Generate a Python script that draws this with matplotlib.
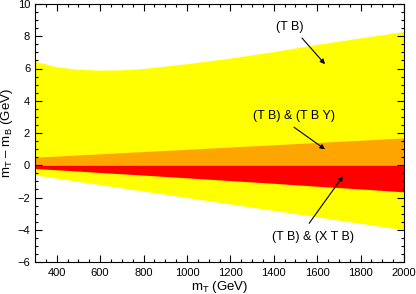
import matplotlib
matplotlib.use('Agg')
import matplotlib.pyplot as plt
import numpy as np
from matplotlib.ticker import MultipleLocator

plt.rcParams['font.family'] = ['Liberation Sans', 'DejaVu Sans']
plt.rcParams['mathtext.fontset'] = 'custom'
plt.rcParams['mathtext.rm'] = 'Liberation Sans'
plt.rcParams['mathtext.it'] = 'Liberation Sans'

# mass of T (GeV)
mT = [300, 400, 500, 600, 700, 800, 1000, 1200, 1400, 1600, 1800, 2000]
# (T B) allowed band
tb_hi = [6.45, 6.1, 5.95, 5.9, 5.92, 6.0, 6.3, 6.65, 7.05, 7.5, 7.9, 8.3]
tb_lo = [-0.6, -0.8, -1.0, -1.2, -1.4, -1.6, -2.0, -2.4, -2.8, -3.2, -3.6, -4.0]
# (T B) & (T B Y)
tby_hi = [0.5, 0.57, 0.64, 0.71, 0.78, 0.85, 0.99, 1.13, 1.27, 1.41, 1.55, 1.7]
tby_lo = [0, 0, 0, 0, 0, 0, 0, 0, 0, 0, 0, 0]
# (T B) & (X T B)
xtb_hi = [0, 0, 0, 0, 0, 0, 0, 0, 0, 0, 0, 0]
xtb_lo = [-0.2, -0.28, -0.36, -0.45, -0.53, -0.61, -0.78, -0.95, -1.12, -1.3, -1.47, -1.65]

fontsz = 8
labsz = 9

fig = plt.figure(figsize=(4.16, 2.94), dpi=100)
ax = fig.add_axes([35/416, 32/294, 369/416, 258/294])

ax.fill_between(mT, tb_lo, tb_hi, color='#ffff00', lw=0)
ax.fill_between(mT, tby_lo, tby_hi, color='#ffa500', lw=0)
ax.fill_between(mT, xtb_lo, xtb_hi, color='#ff0000', lw=0)

arrow = dict(arrowstyle='-|>', color='black', lw=0.8, mutation_scale=7, shrinkA=0, shrinkB=0)
ax.text(1475, 8.57, '(T B)', fontsize=labsz, ha='center', va='center')
ax.annotate('', xy=(1636, 6.27), xytext=(1530, 7.89), arrowprops=arrow)
ax.text(1493, 3.05, '(T B) & (T B Y)', fontsize=labsz, ha='center', va='center')
ax.annotate('', xy=(1636, 0.99), xytext=(1493, 2.36), arrowprops=arrow)
ax.text(1581, -4.47, '(T B) & (X T B)', fontsize=labsz, ha='center', va='center')
ax.annotate('', xy=(1719, -0.68), xytext=(1563, -3.6), arrowprops=arrow)

ax.set_xlim(300, 2000)
ax.set_ylim(-6, 10)
ax.xaxis.set_major_locator(MultipleLocator(200))
ax.xaxis.set_minor_locator(MultipleLocator(50))
ax.yaxis.set_major_locator(MultipleLocator(2))
ax.yaxis.set_minor_locator(MultipleLocator(0.5))
ax.tick_params(which='both', direction='in', top=True, right=True, labelsize=fontsz, width=0.8)
ax.tick_params(which='major', length=5)
ax.tick_params(which='minor', length=2.5)
ax.tick_params(axis='x', pad=4)
for s in ax.spines.values():
    s.set_linewidth(0.8)

ax.set_xlabel('m$_\\mathregular{T}$ (GeV)', fontsize=labsz + 0.5, labelpad=1)
ax.set_ylabel('m$_\\mathregular{T}$ \u2013 m$_\\mathregular{B}$ (GeV)', fontsize=labsz + 0.5, labelpad=2)

plt.savefig('out.png', dpi=100)
